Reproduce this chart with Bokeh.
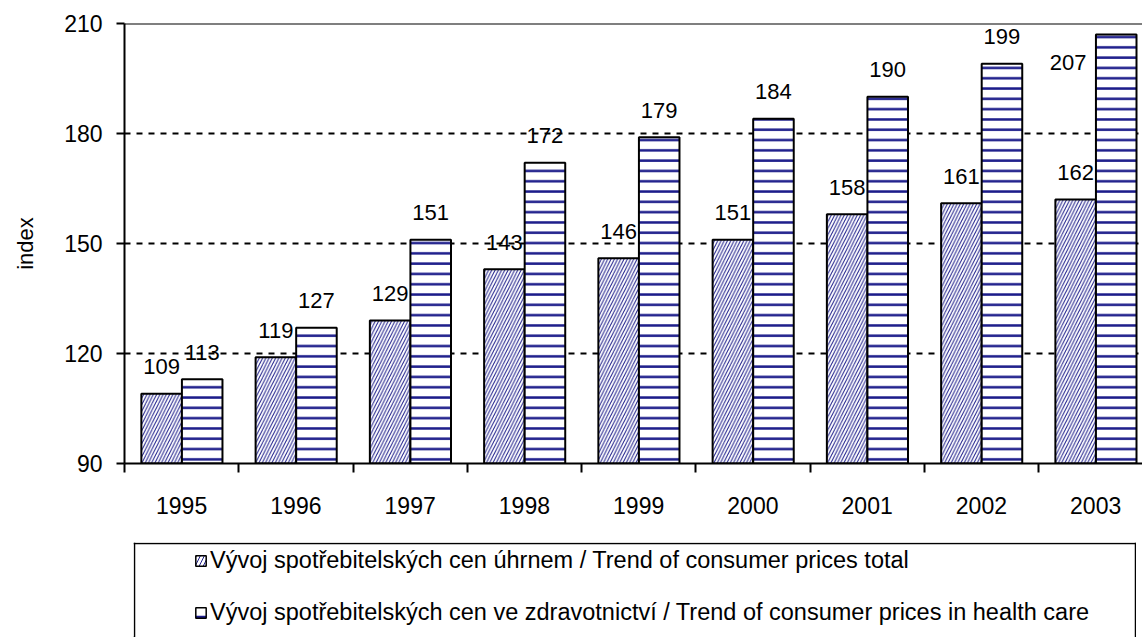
import numpy as np
from bokeh.plotting import figure
from bokeh.layouts import column
from bokeh.models import (Range1d, FixedTicker, Span, Legend, LegendItem,
                          ColumnDataSource)
from bokeh.core.properties import value
from bokeh.embed import file_html
from bokeh.resources import INLINE

# ---- data ----
years = ["1995", "1996", "1997", "1998", "1999", "2000", "2001", "2002", "2003"]
total_prices = [109, 119, 129, 143, 146, 151, 158, 161, 162]
health_prices = [113, 127, 151, 172, 179, 184, 190, 199, 207]
y_ticks = [90, 120, 150, 180, 210]
series_names = ["Vývoj spotřebitelských cen úhrnem / Trend of consumer prices total",
                "Vývoj spotřebitelských cen ve zdravotnictví / Trend of consumer prices in health care"]
y_title = "index"

FONT = "Liberation Sans"
NAVY = "#1c1c8a"
n = len(years)

idx = np.arange(n)
x1 = idx + 0.325
x2 = idx + 0.68

src1 = ColumnDataSource(dict(x=x1, top=total_prices, lab=[str(v) for v in total_prices]))
src2 = ColumnDataSource(dict(x=x2, top=health_prices, lab=[str(v) for v in health_prices]))
src2a = ColumnDataSource(dict(x=x2[:n - 1], top=health_prices[:n - 1],
                              lab=[str(v) for v in health_prices[:n - 1]]))
src2b = ColumnDataSource(dict(x=x2[n - 1:], top=health_prices[n - 1:],
                              lab=[str(v) for v in health_prices[n - 1:]]))

bar1_style = dict(fill_color="white", line_color="black", line_width=2,
                  hatch_pattern="/", hatch_color=NAVY, hatch_scale=6.5, hatch_weight=1.0)
bar2_style = dict(fill_color="white", line_color="black", line_width=2,
                  hatch_pattern="-", hatch_color=NAVY, hatch_scale=10.3, hatch_weight=2.5)

BORDER_L = 124
p = figure(width=1142, height=542, output_backend="svg", toolbar_location=None,
           x_range=Range1d(0, 8.91), y_range=Range1d(90, 210),
           min_border_left=BORDER_L, min_border_right=0, min_border_top=23,
           min_border_bottom=79)
p.outline_line_color = None

p.vbar(x="x", top="top", bottom=90, width=0.355, source=src1, **bar1_style)
p.vbar(x="x", top="top", bottom=90, width=0.355, source=src2, **bar2_style)

lab_kw = dict(text="lab", text_align="center", text_baseline="middle",
              text_font=value(FONT), text_font_size="22px", text_color="black")
p.text(x="x", y="top", source=src1, y_offset=-27, **lab_kw)
p.text(x="x", y="top", source=src2a, y_offset=-27, **lab_kw)
p.text(x="x", y="top", source=src2b, x_offset=-48, y_offset=28, **lab_kw)

# grid
p.xgrid.visible = False
p.ygrid.ticker = FixedTicker(ticks=[t for t in y_ticks if 90 < t < 210])
p.ygrid.grid_line_color = "black"
p.ygrid.grid_line_width = 2
p.ygrid.grid_line_dash = "6 6"
p.add_layout(Span(location=y_ticks[-1], dimension="width", line_color="black", line_width=2))

# y axis
ya = p.yaxis[0]
ya.ticker = FixedTicker(ticks=y_ticks)
ya.axis_line_width = 2
ya.major_tick_line_width = 2
ya.major_tick_out = 8
ya.major_tick_in = 0
ya.minor_tick_line_color = None
ya.major_label_standoff = 14
ya.major_label_text_font = FONT
ya.major_label_text_font_size = "23px"
ya.major_label_text_color = "black"
ya.axis_label = y_title
ya.axis_label_text_font = FONT
ya.axis_label_text_font_size = "22px"
ya.axis_label_text_font_style = "normal"
ya.axis_label_text_color = "black"
ya.axis_label_standoff = 23

# x axis
xa = p.xaxis[0]
xa.ticker = FixedTicker(ticks=[i + 0.5 for i in range(n)], minor_ticks=list(range(n + 1)))
xa.major_label_overrides = {i + 0.5: y for i, y in enumerate(years)}
xa.axis_line_width = 2
xa.major_tick_line_color = None
xa.major_tick_out = 0
xa.major_tick_in = 0
xa.minor_tick_line_color = "black"
xa.minor_tick_line_width = 2
xa.minor_tick_out = 9
xa.minor_tick_in = 0
xa.major_label_standoff = 24
xa.major_label_text_font = FONT
xa.major_label_text_font_size = "23px"
xa.major_label_text_color = "black"

# ---- legend panel (frame aligned under the chart frame) ----
LW, LH = 1003, 95
q = figure(width=LW + BORDER_L, height=LH, output_backend="svg", toolbar_location=None,
           x_range=Range1d(0, LW), y_range=Range1d(0, LH),
           x_axis_type=None, y_axis_type=None,
           min_border=0, min_border_left=BORDER_L, min_border_right=0,
           min_border_top=0, min_border_bottom=0, margin=(0, 0, 0, 9))
q.outline_line_color = None
q.grid.visible = False
q.add_layout(Span(location=1, dimension="height", line_color="black", line_width=1.5))
q.add_layout(Span(location=LW - 1, dimension="height", line_color="black", line_width=1.5))
q.add_layout(Span(location=LH - 1, dimension="width", line_color="black", line_width=1.5))

# legend swatches (placed outside the visible range; used only for the legend)
d1 = q.vbar(x=[-100], top=[-100], bottom=-200, width=1, **bar1_style)
d2 = q.vbar(x=[-100], top=[-100], bottom=-200, width=1, **bar2_style)
d1.glyph.line_width = 1.5
d2.glyph.line_width = 1.5
d1.glyph.hatch_scale = 8
d2.glyph.hatch_scale = 20

legend = Legend(items=[LegendItem(label=series_names[0], renderers=[d1]),
                       LegendItem(label=series_names[1], renderers=[d2])],
                location=(61, 10), orientation="vertical",
                border_line_color=None, background_fill_alpha=0,
                padding=0, margin=0, spacing=22, label_height=30,
                glyph_width=13, glyph_height=13, label_standoff=3,
                label_text_font=FONT, label_text_font_size="23.5px",
                label_text_color="black")
q.add_layout(legend, "center")

layout = column(p, q, spacing=0)
open("out.html", "w").write(file_html(layout, INLINE))
